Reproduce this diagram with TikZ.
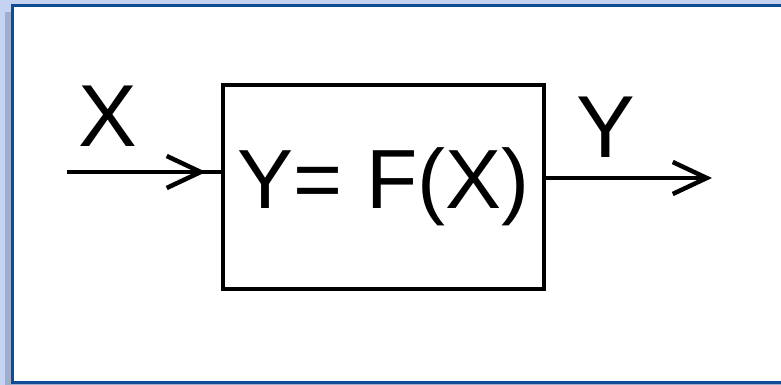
\documentclass[tikz,border=0pt]{standalone}
\usepackage{fontspec}
\setmainfont{Liberation Sans}
\usetikzlibrary{arrows.meta,positioning,calc}
\definecolor{PageBlue}{RGB}{196,211,241}
\definecolor{FrameBlue}{RGB}{14,76,150}
\definecolor{ShadowBlue}{RGB}{160,174,206}
\tikzset{
  funcbox/.style={draw=black,line width=4pt,minimum width=321pt,minimum height=204pt,inner sep=0pt,font=\fontsize{84}{84}\selectfont},
  siglabel/.style={inner sep=0pt,font=\fontsize{88}{88}\selectfont},
  sigline/.style={line width=4pt,draw=black},
  sigarrow/.style={-{Straight Barb[length=34pt,width=32pt,line width=4.5pt]},line width=4pt,draw=black}
}
\begin{document}
\begin{tikzpicture}[x=1pt,y=-1pt]
\useasboundingbox (0,0) rectangle (781,385);
% page and panel
\fill[PageBlue] (0,0) rectangle (781,385);
\fill[ShadowBlue] (5,12) rectangle (781,385);
\draw[FrameBlue,line width=3pt,fill=white] (12,6) rectangle (792,382);
% block
\node[funcbox] (fx) at (383.5,187) {Y= F(X)};
\coordinate (xin) at (67,172);
\coordinate (yout) at (712,178);
\node[siglabel] (xlab) at (108,116) {X};
\node[siglabel] (ylab) at (606,127) {Y};
\draw[sigline] (xin) -- (fx.west |- xin);
\draw[sigarrow,shorten >=15pt] (xin) -- (fx.west |- xin);
\draw[sigarrow] (fx.east |- yout) -- (yout);
\end{tikzpicture}
\end{document}
